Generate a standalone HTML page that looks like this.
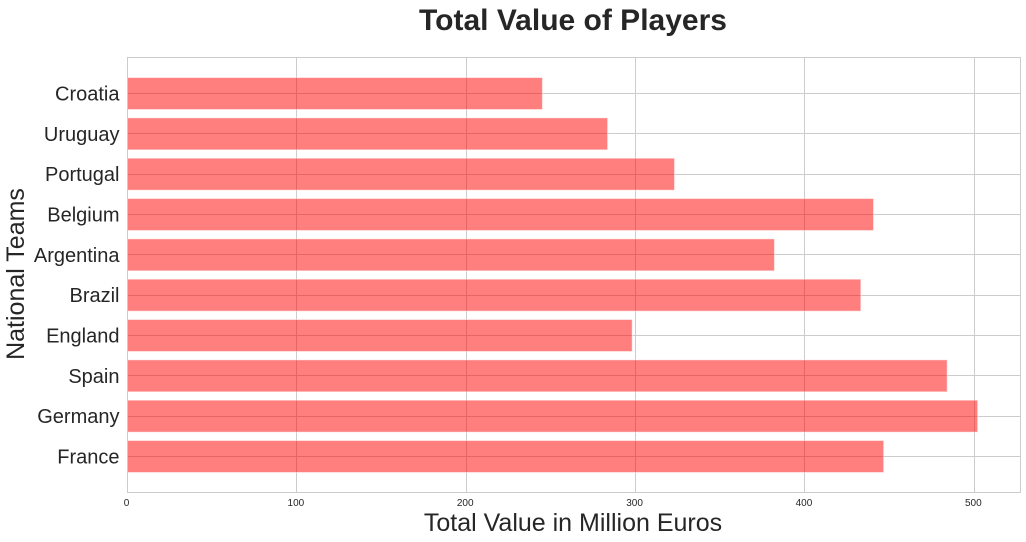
<!DOCTYPE html>
<html>
<head>
<meta charset="utf-8">
<style>
html,body{margin:0;padding:0;background:#fff;width:1026px;height:542px;overflow:hidden}
svg{display:block}
text{font-family:"Liberation Sans",Arial,sans-serif;fill:#262626}
</style>
</head>
<body>
<svg id="chart" width="1026" height="542" viewBox="0 0 1026 542" xmlns="http://www.w3.org/2000/svg">
<text x="573" y="30" text-anchor="middle" font-size="30" font-weight="bold">Total Value of Players</text>
<text x="573" y="531" text-anchor="middle" font-size="25">Total Value in Million Euros</text>
<text x="0" y="0" transform="translate(24 274) rotate(-90)" text-anchor="middle" font-size="25">National Teams</text>
<g id="grid"></g>
<g id="bars"></g>
<g id="ticks"></g>
<rect x="127.5" y="57.5" width="893" height="435" fill="none" stroke="#cccccc" stroke-width="1"/>
</svg>
<script>
var categories = ["France","Germany","Spain","England","Brazil","Argentina","Belgium","Portugal","Uruguay","Croatia"];
var values = [446.5,502,484,298,433,382,440.5,323,283.5,245];
var xTicks = [0,100,200,300,400,500];

var NS = "http://www.w3.org/2000/svg";
var plot = {left:127.5,right:1020.5,top:57.5,bottom:492.5};
var xScalePerUnit = 1.6936;
var barSpacing = 40.33;
var firstBarY = 456.5;
var barHeight = 32;

function xPos(v){ return plot.left + v * xScalePerUnit; }
function yPos(i){ return firstBarY - i * barSpacing; }
function make(tag, attrs, parent){
  var el = document.createElementNS(NS, tag);
  for (var k in attrs) el.setAttribute(k, attrs[k]);
  parent.appendChild(el);
  return el;
}
var grid = document.getElementById("grid");
var bars = document.getElementById("bars");
var ticks = document.getElementById("ticks");

xTicks.forEach(function(t){
  var x = Math.round(xPos(t) - 0.5) + 0.5;
  var line = make("line", {x1:x, x2:x, y1:plot.top, y2:plot.bottom, stroke:"#cccccc", "stroke-width":1}, grid);
  
  
  var label = make("text", {x:xPos(t) - 1, y:506, "text-anchor":"middle", "font-size":"10"}, ticks);
  
  
  label.textContent = t;
});

categories.forEach(function(c, i){
  var y = Math.round(yPos(i) - 0.5) + 0.5;
  var line = make("line", {x1:plot.left, x2:plot.right, y1:y, y2:y, stroke:"#cccccc", "stroke-width":1}, grid);
  
  
  var bar = make("rect", {x:plot.left, y:yPos(i) - barHeight / 2, width:values[i] * xScalePerUnit, height:barHeight, fill:"#ff0000", "fill-opacity":0.5, stroke:"#ffffff", "stroke-opacity":0.5, "stroke-width":1}, bars);
  
  
  var label = make("text", {x:119.5, y:yPos(i) + 7, "text-anchor":"end", "font-size":"20"}, ticks);
  
  
  label.textContent = c;
});
</script>
</body>
</html>
